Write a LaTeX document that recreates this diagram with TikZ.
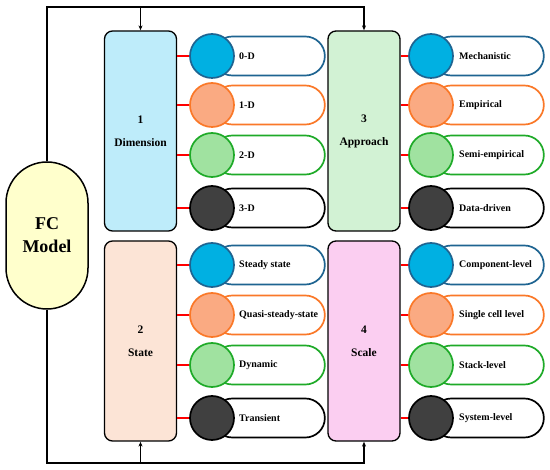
\documentclass[tikz,border=0pt]{standalone}
\usepackage{fontspec}
\setmainfont{Liberation Serif}
\usetikzlibrary{arrows.meta,positioning}

\definecolor{fcyellow}{RGB}{255,255,204}
\definecolor{dimfill}{RGB}{190,236,250}
\definecolor{statefill}{RGB}{252,228,214}
\definecolor{appfill}{RGB}{210,242,212}
\definecolor{scalefill}{RGB}{251,206,241}
\definecolor{fillblue}{RGB}{0,176,226}
\definecolor{lineblue}{RGB}{30,100,145}
\definecolor{fillorg}{RGB}{250,170,130}
\definecolor{lineorg}{RGB}{250,120,40}
\definecolor{fillgrn}{RGB}{160,226,160}
\definecolor{linegrn}{RGB}{30,170,40}
\definecolor{filldark}{RGB}{64,64,64}
\definecolor{linedark}{RGB}{0,0,0}

\begin{document}
\begin{tikzpicture}[x=1pt,y=-1pt,
    catbox/.style={draw, line width=1.3pt, rounded corners=8pt, minimum width=72pt,
        minimum height=200pt, align=center, font=\bfseries\fontsize{11.5}{13}\selectfont},
    pill/.style={draw=#1, line width=1.7pt, fill=white, rounded corners=19.5pt,
        minimum width=112pt, minimum height=39pt, anchor=west, inner sep=0pt},
    dot/.style={circle, line width=1.7pt, minimum size=44pt, inner sep=0pt},
    itemtxt/.style={inner sep=0pt, font=\bfseries\fontsize{10}{12}\selectfont},
    link/.style={red, line width=1.3pt},
    feed/.style={line width=1.3pt, -{Stealth[length=5pt,width=4pt]}}]

    % Rahmen
    \useasboundingbox (0,0) rectangle (550,470);

    % FC-Modell
    \node[draw, line width=1.5pt, fill=fcyellow, rounded corners=41pt, minimum width=82pt,
        minimum height=147pt, align=center, font=\bfseries\fontsize{18}{23}\selectfont]
        (fc) at (47,235.5) {FC\\Model};

    % Kategorien
    \node[catbox, fill=dimfill] (dim) at (140.5,131) {1\\[10pt]Dimension};
    \node[catbox, fill=statefill] (sta) at (140.5,341) {2\\[10pt]State};
    \node[catbox, fill=appfill] (app) at (364,131) {3\\[10pt]Approach};
    \node[catbox, fill=scalefill] (sca) at (364,341) {4\\[10pt]Scale};

    % Verbindungen vom FC-Modell
    \coordinate (topy) at (0,7);
    \coordinate (boty) at (0,463);
    \draw[feed] (fc.north) |- (topy -| app.north) -- (app.north);
    \draw[feed] (topy -| dim.north) -- (dim.north);
    \draw[feed] (fc.south) |- (boty -| sca.south) -- (sca.south);
    \draw[feed] (boty -| sta.south) -- (sta.south);

    % Dimension
    \foreach \y/\col/\txt [count=\i] in {56/blue/0-D, 105/org/1-D, 155/grn/2-D, 208/dark/3-D} {
        \node[pill=line\col] (pa\i) at (212,\y) {};
        \node[dot, fill=fill\col, draw=line\col] (ca\i) at (212,\y) {};
        \node[itemtxt, right=27pt of pa\i.west] (ta\i) {\txt};
        \draw[link] (dim.east |- ca\i.west) -- (ca\i.west);
    }

    % State
    \foreach \y/\col/\txt [count=\i] in {265/blue/Steady state, 315/org/Quasi-steady-state,
        365/grn/Dynamic, 418/dark/Transient} {
        \node[pill=line\col] (pb\i) at (212,\y) {};
        \node[dot, fill=fill\col, draw=line\col] (cb\i) at (212,\y) {};
        \node[itemtxt, right=27pt of pb\i.west] (tb\i) {\txt};
        \draw[link] (sta.east |- cb\i.west) -- (cb\i.west);
    }

    % Approach
    \foreach \y/\col/\txt [count=\i] in {56/blue/Mechanistic, 105/org/Empirical,
        155/grn/Semi-empirical, 208/dark/Data-driven} {
        \node[pill=line\col] (pc\i) at (431,\y) {};
        \node[dot, fill=fill\col, draw=line\col] (cc\i) at (431,\y) {};
        \node[itemtxt, right=28pt of pc\i.west] (tc\i) {\txt};
        \draw[link] (app.east |- cc\i.west) -- (cc\i.west);
    }

    % Scale
    \foreach \y/\col/\txt [count=\i] in {265/blue/Component-level, 315/org/Single cell level,
        365/grn/Stack-level, 418/dark/System-level} {
        \node[pill=line\col] (pd\i) at (431,\y) {};
        \node[dot, fill=fill\col, draw=line\col] (cd\i) at (431,\y) {};
        \node[itemtxt, right=28pt of pd\i.west] (td\i) {\txt};
        \draw[link] (sca.east |- cd\i.west) -- (cd\i.west);
    }
\end{tikzpicture}
\end{document}
